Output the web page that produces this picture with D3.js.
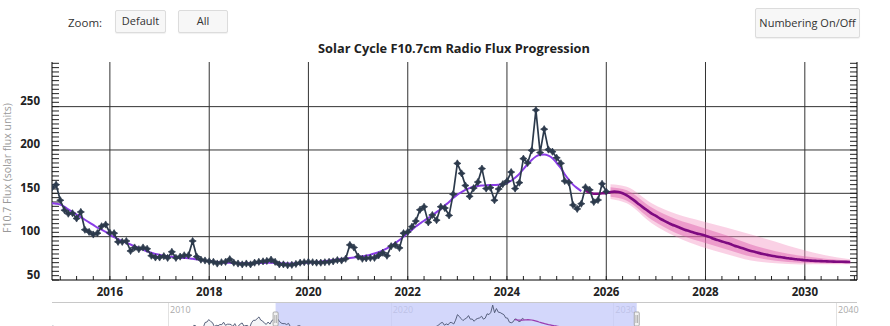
<!DOCTYPE html>
<html><head><meta charset="utf-8">
<script src="https://cdn.jsdelivr.net/npm/d3@7"></script>
<style>
body{margin:0;background:#fff;overflow:hidden;font-family:"Open Sans",sans-serif;}
#wrap{position:relative;width:890px;height:326px;overflow:hidden;}
svg{position:absolute;left:0;top:0;}
.btn{position:absolute;background:#f7f7f7;border:1px solid #dcdcdc;border-radius:2px;font-size:11px;color:#333;box-sizing:border-box;text-align:center;font-family:"Open Sans",sans-serif;box-shadow:0 1px 1px rgba(0,0,0,0.06);}
#zoomlbl{position:absolute;left:68px;top:15px;font-size:11.5px;color:#333;}
</style></head>
<body><div id="wrap">
<svg id="chart" width="890" height="326"></svg>
<div id="zoomlbl">Zoom:</div>
<div class="btn" style="left:115px;top:10px;width:51px;height:23px;line-height:19px;">Default</div>
<div class="btn" style="left:178px;top:10px;width:50px;height:23px;line-height:19px;">All</div>
<div class="btn" style="left:755px;top:8px;width:105px;height:30px;line-height:28px;">Numbering On/Off</div>
</div>
<script>
// ---------------- DATA ----------------
const chartTitle = "Solar Cycle F10.7cm Radio Flux Progression";
const yAxisTitle = "F10.7 Flux (solar flux units)";

const observedStart = "2014-11";
const observedF107 = [
  156.5,160,
  142,130.5,126.5,127,121,128.5,108,105.5,102.5,104,112,114,
  104.5,104,94,94,95,83.5,87.5,85.5,87.5,86,78,76,
  76,77.5,75.5,82.5,75.5,77,78.5,78.5,95,77,73.5,72.5,
  71.5,71,69,70.5,71,74,70,69,68,69,68,70,
  71,71.5,72,73.5,71,68,68,67,67.5,68.5,70,70.5,
  71,70.5,70,70,70.5,71,71.5,73,72.5,74.5,90.5,87.5,
  77,74.5,75,75.5,75.5,78.5,81.5,78,89,90.5,87,104,
  105.5,111.5,118,131,134.5,116.5,125,119,134.5,133,124.5,149,
  184.5,173,159,146.5,156,163,178.5,155.5,156.5,142,155,160.5,
  164,174.5,155.5,162.3,190,185,199.5,246,197,224,200.5,198,
  191,184.6,164.2,162.5,136.5,132,138,157,154,140,142.3,161,
  152
];

const smoothedStart = "2014-11";
const smoothedF107 = [
  138.5,138,
  137,134.5,131.5,128.5,125.5,122.5,119.5,116.5,113.5,110.5,108,105.5,
  102,99.5,97,95,93,91,89,87,85,83,81.5,80,
  79,78,77.3,76.8,76.3,75.8,75.4,75,74.5,74,73.2,72.5,
  71.8,71.2,70.7,70.3,70,69.8,69.6,69.4,69.3,69.3,69.4,69.5,
  69.6,69.7,69.8,69.8,69.7,69.5,69.2,69,68.9,69,69.3,69.6,
  70,70.4,70.8,71.3,71.8,72.4,73,73.6,74.2,74.8,75.4,76,
  76.6,77.3,78.2,79.3,80.6,82.2,84.2,86.6,89.4,92.6,96.2,100,
  104,108,111.8,115.2,118.4,121.5,124.8,128.3,132,136,140,144.5,
  148.5,151.5,154,156,157.5,158.5,159,159.3,159.5,159.6,159.8,160.5,
  162,164.5,168,172.5,178,183.5,188.5,192.5,194.5,194.8,193.5,190.5,
  185,179,172,165.5,160,156,152.5
];

const forecastStart = "2025-08";
const forecastF107 = [
  153,151,149.5,149.5,150,
  150.5,151.5,152,151.5,150,147.5,144.5,141,137,133.5,130,126.5,
  124,120.8,118.5,116,113.8,112,110,108,106.5,105,103.5,102.5,
  101,99.5,97.5,96,94.5,93,91.5,89.5,88,86.5,85,83.5,
  82.3,81,80,79,78,77.2,76.5,75.8,75,74.5,74,73.4,
  72.8,72.5,72.2,72,71.8,71.6,71.4,71.2,71.1,71,70.9,70.8
];

const bandDates     = ["2026-02","2026-06","2026-12","2027-06","2027-12","2028-06","2028-12","2029-06","2029-12","2030-06","2030-12"];
const bandOuterHigh = [160.5,157.5,138.5,126,118,110.5,102.5,94.2,85.4,78.6,73.8];
const bandOuterLow  = [143.5,138.5,115.5,99.5,88.5,80,72.5,69.2,67.9,68.1,68.3];
const bandInnerHigh = [157,153.5,133.5,120,111,101.5,91,83.2,77.9,74.6,72.3];
const bandInnerLow  = [146,141.5,119.5,104,94,85.5,77,72.2,69.9,69.4,69.3];

// earlier observations, only visible in the range selector strip
const earlierStart = "2004-11";
const earlierF107 = [
  114,95,
  102,97,90,86,99,93,96,90,91,77,86,90,
  83,76,76,89,81,76,75,79,77,74,87,84,
  83,77,72,72,74,74,72,69,67,68,70,85,
  72,71,73,70,68,66,66,67,68,68,69,69,
  70,70,69,69,70,69,68,67,71,72,73,77,
  84,85,83,76,74,73,79,80,81,82,83,84,
  84,95,116,113,96,96,94,101,134,137,153,141,
  133,107,116,113,121,120,136,116,123,123,121,108,
  127,104,111,125,131,110,115,114,102,132,148,148,
  158,170,150,144,130,122,137,124,147,153
];

const xTickYears = [2016,2018,2020,2022,2024,2026,2028,2030];
const yTickValues = [50,100,150,200,250];
const miniTickYears = [2010,2020,2030,2040];

// ---------------- DRAW ----------------
const parseM = d3.utcParse("%Y-%m");
const monthsFrom = (s, n) => d3.range(n).map(i => d3.utcMonth.offset(parseM(s), i));
const zipSeries = (s, vals) => { const ds = monthsFrom(s, vals.length); return vals.map((v,i)=>({d:ds[i], v})); };

const obs = zipSeries(observedStart, observedF107);
const smo = zipSeries(smoothedStart, smoothedF107);
const fc  = zipSeries(forecastStart, forecastF107);
const early = zipSeries(earlierStart, earlierF107);
const band = bandDates.map((s,i)=>({d:parseM(s), oh:bandOuterHigh[i], ol:bandOuterLow[i], ih:bandInnerHigh[i], il:bandInnerLow[i]}));

const L=52, R=857, T=62, B=280;
const x = d3.scaleUtc().domain([Date.UTC(2014,10,1), Date.UTC(2031,0,20)]).range([L,R]);
const y = d3.scaleLinear().domain([50,301.5]).range([B,T]);

const svg = d3.select("#chart");
svg.append("defs").append("clipPath").attr("id","pc").append("rect")
  .attr("x",L).attr("y",T).attr("width",R-L).attr("height",B-T);

// title
const title = svg.append("text").attr("x",454).attr("y",53).attr("text-anchor","middle")
  .attr("font-family","Open Sans").attr("font-weight","bold").attr("font-size",13).attr("fill","#222").text(chartTitle);
const tw = title.node().getComputedTextLength();
title.attr("font-size", 13*272/tw);

// grid
const g = svg.append("g");
g.selectAll(".vg").data(xTickYears).join("line")
  .attr("x1",d=>x(Date.UTC(d,0,1))).attr("x2",d=>x(Date.UTC(d,0,1)))
  .attr("y1",T).attr("y2",B).attr("stroke","#333").attr("stroke-width",1);
g.selectAll(".hg").data(yTickValues.filter(v=>v>50)).join("line")
  .attr("x1",L).attr("x2",R).attr("y1",d=>y(d)).attr("y2",d=>y(d))
  .attr("stroke","#333").attr("stroke-width",1);

// minor ticks
const minorY = d3.range(50,301,5);
g.selectAll(".ml").data(minorY).join("line").attr("x1",L).attr("x2",L+7)
  .attr("y1",d=>y(d)).attr("y2",d=>y(d)).attr("stroke","#222").attr("stroke-width",1);
g.selectAll(".mr").data(minorY).join("line").attr("x1",R-7).attr("x2",R)
  .attr("y1",d=>y(d)).attr("y2",d=>y(d)).attr("stroke","#222").attr("stroke-width",1);
const minorX = d3.utcMonth.every(4).range(x.domain()[0], x.domain()[1]);
g.selectAll(".mx").data(minorX).join("line").attr("x1",d=>x(d)).attr("x2",d=>x(d))
  .attr("y1",B).attr("y2",B-4).attr("stroke","#222").attr("stroke-width",1);

// axes frame
g.append("line").attr("x1",L).attr("x2",L).attr("y1",T).attr("y2",B).attr("stroke","#000");
g.append("line").attr("x1",R).attr("x2",R).attr("y1",T).attr("y2",B).attr("stroke","#000");
g.append("line").attr("x1",L).attr("x2",R).attr("y1",B).attr("y2",B).attr("stroke","#000");

// tick labels
svg.selectAll(".xl").data(xTickYears).join("text")
  .attr("x",d=>x(Date.UTC(d,0,1))).attr("y",295.5).attr("text-anchor","middle")
  .attr("font-family","Open Sans").attr("font-weight","bold").attr("font-size",11.5).attr("fill","#222").text(d=>d);
svg.selectAll(".yl").data(yTickValues).join("text")
  .attr("x",40).attr("y",d=>y(d)-1.5).attr("text-anchor","end")
  .attr("font-family","Open Sans").attr("font-weight","bold").attr("font-size",11.5).attr("fill","#222").text(d=>d);

// y axis title
svg.append("text").attr("transform","translate(10.5,168) rotate(-90)").attr("text-anchor","middle")
  .attr("font-family","Open Sans").attr("font-size",10.5).attr("fill","#999").text(yAxisTitle);

// plot content
const p = svg.append("g").attr("clip-path","url(#pc)");
p.append("path").datum(band)
  .attr("d", d3.area().x(d=>x(d.d)).y0(d=>y(d.ol)).y1(d=>y(d.oh)).curve(d3.curveMonotoneX))
  .attr("fill","rgb(242,140,190)").attr("fill-opacity",0.4);
p.append("path").datum(band)
  .attr("d", d3.area().x(d=>x(d.d)).y0(d=>y(d.il)).y1(d=>y(d.ih)).curve(d3.curveMonotoneX))
  .attr("fill","rgb(222,90,170)").attr("fill-opacity",0.45);

p.append("path").datum(smo)
  .attr("d", d3.line().x(d=>x(d.d)).y(d=>y(d.v)).curve(d3.curveMonotoneX))
  .attr("fill","none").attr("stroke","#8a3ce6").attr("stroke-width",2);

p.append("path").datum(fc)
  .attr("d", d3.line().x(d=>x(d.d)).y(d=>y(d.v)).curve(d3.curveMonotoneX))
  .attr("fill","none").attr("stroke","#7e0a80").attr("stroke-width",2.6);

p.append("path").datum(obs)
  .attr("d", d3.line().x(d=>x(d.d)).y(d=>y(d.v)))
  .attr("fill","none").attr("stroke","#2c3a4c").attr("stroke-width",1.7);

function starPath(r, ri){
  const pts=[]; for(let k=0;k<8;k++){const a=k*Math.PI/4-Math.PI/2; const rr=k%2?ri:r; pts.push([Math.cos(a)*rr, Math.sin(a)*rr]);}
  return "M"+pts.map(q=>q.join(",")).join("L")+"Z";
}
const sp = starPath(3.6, 1.9);
p.selectAll(".mk").data(obs).join("path")
  .attr("d",sp).attr("transform",d=>`translate(${x(d.d)},${y(d.v)})`)
  .attr("fill","#2c3a4c").attr("stroke","#2c3a4c").attr("stroke-width",0.7);

// ---------------- RANGE SELECTOR ----------------
const xm = d3.scaleUtc().domain([Date.UTC(2010,0,1), Date.UTC(2040,0,1)]).range([168,836]);
const ym = d3.scaleLinear().domain([60,250]).range([334,304.5]);
const rs = svg.append("g");
rs.append("rect").attr("x",L).attr("y",302).attr("width",R-L).attr("height",30).attr("fill","#fff");
rs.selectAll(".mg").data(miniTickYears).join("line")
  .attr("x1",d=>Math.round(xm(Date.UTC(d,0,1)))+0.5).attr("x2",d=>Math.round(xm(Date.UTC(d,0,1)))+0.5)
  .attr("y1",302).attr("y2",326).attr("stroke","#e2e2e2");
rs.selectAll(".mt").data(miniTickYears).join("text")
  .attr("x",d=>xm(Date.UTC(d,0,1))+2).attr("y",313).attr("font-family","Open Sans").attr("font-size",9)
  .attr("fill","#aaa").text(d=>d);
const allObs = early.concat(obs);
rs.append("path").datum(allObs)
  .attr("d", d3.area().x(d=>xm(d.d)).y0(340).y1(d=>ym(d.v)))
  .attr("fill","#eceef2").attr("fill-opacity",0.6);
rs.append("rect").attr("x",xm(x.domain()[0])).attr("y",302)
  .attr("width",xm(x.domain()[1])-xm(x.domain()[0])).attr("height",30)
  .attr("fill","rgb(196,202,250)").attr("fill-opacity",0.75);
rs.append("path").datum(allObs)
  .attr("d", d3.line().x(d=>xm(d.d)).y(d=>ym(d.v)))
  .attr("fill","none").attr("stroke","#4a5470").attr("stroke-width",0.9);
rs.append("path").datum(fc)
  .attr("d", d3.line().x(d=>xm(d.d)).y(d=>ym(d.v)))
  .attr("fill","none").attr("stroke","#9a3cb0").attr("stroke-width",1.2);
rs.append("line").attr("x1",L).attr("x2",R).attr("y1",302.5).attr("y2",302.5).attr("stroke","#c8c8c8");
[x.domain()[0], x.domain()[1]].forEach(dd=>{
  const hx = xm(dd);
  rs.append("rect").attr("x",hx-2.5).attr("y",312).attr("width",5).attr("height",14).attr("rx",1)
    .attr("fill","#f2f2f2").attr("stroke","#999").attr("stroke-width",0.8);
  rs.append("line").attr("x1",hx-0.8).attr("x2",hx-0.8).attr("y1",315).attr("y2",323).attr("stroke","#888").attr("stroke-width",0.6);
  rs.append("line").attr("x1",hx+0.8).attr("x2",hx+0.8).attr("y1",315).attr("y2",323).attr("stroke","#888").attr("stroke-width",0.6);
});
</script>
</body></html>
